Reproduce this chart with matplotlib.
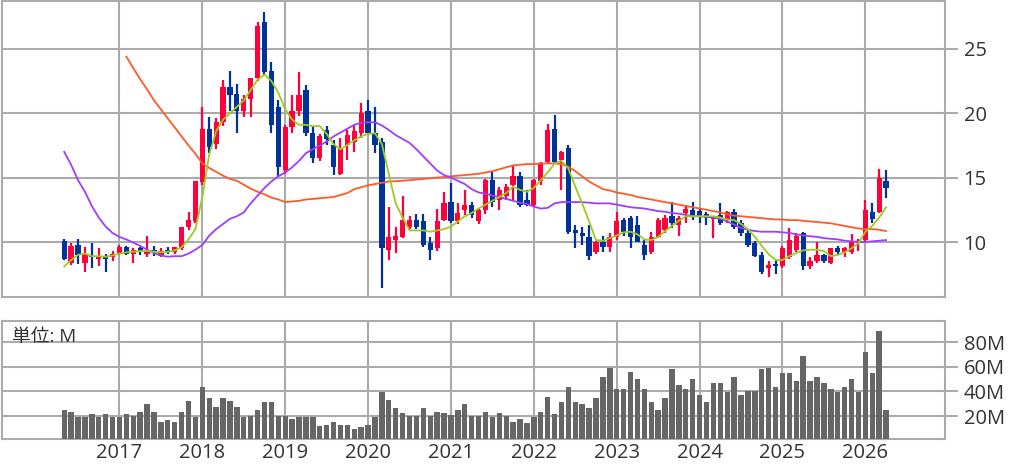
import numpy as np
import pandas as pd
import matplotlib
matplotlib.use("Agg")
import matplotlib.pyplot as plt

plt.rcParams['font.family'] = ['Open Sans', 'Noto Sans CJK JP', 'DejaVu Sans']

# ---------------- data (monthly, May 2016 .. Apr 2026) ----------------
start_month = "2016-05"

opens = [10.1, 8.4, 9.8, 8.4, 8.9, 8.7, 8.8, 8.8, 9.15, 9.6,
         9.1, 9.5, 9.1, 9.4, 8.9, 9.4, 9.2, 9.5, 11.2, 11.6,
         14.65, 18.8, 17.6, 19.3, 22.0, 21.5, 20.2, 21.1, 22.7, 27.1,
         23.3, 20.5, 15.6, 18.9, 20.2, 21.8, 18.45, 16.5, 18.7, 17.5,
         15.3, 17.5, 17.8, 18.45, 20.2, 18.45, 17.8, 9.4, 10.15, 10.4,
         11.2, 11.7, 11.6, 9.9, 9.5, 11.7, 13.1, 11.6, 12.5, 12.9,
         11.6, 12.5, 14.8, 13.25, 13.6, 14.4, 15.1, 13.25, 12.9, 14.7,
         16.2, 18.8, 16.35, 17.3, 10.9, 10.7, 10.4, 9.25, 10.0, 9.6,
         10.4, 11.7, 11.9, 11.3, 9.77, 9.25, 10.4, 10.9, 12.0, 11.3,
         12.25, 12.5, 12.4, 12.2, 11.8, 12.1, 11.7, 12.35, 11.45, 10.7,
         9.9, 9.0, 8.0, 8.3, 8.1, 8.86, 9.4, 10.7, 8.1, 8.5,
         9.0, 8.4, 9.5, 9.2, 9.25, 9.9, 10.15, 12.35, 12.35, 14.7]
highs = [10.2, 9.9, 10.2, 9.6, 9.9, 9.5, 9.1, 9.3, 9.8, 9.7,
         9.5, 9.6, 10.5, 9.7, 9.5, 9.6, 9.6, 11.2, 12.35, 14.7,
         20.5, 19.7, 19.6, 22.6, 23.3, 22.3, 21.4, 22.7, 27.1, 27.9,
         24.0, 21.0, 19.1, 21.4, 23.2, 22.2, 18.9, 18.4, 19.0, 17.9,
         18.1, 18.7, 19.1, 20.8, 21.0, 20.5, 18.1, 12.7, 11.2, 13.6,
         12.0, 12.2, 12.2, 10.4, 12.6, 13.9, 14.6, 13.0, 14.0, 13.1,
         12.6, 14.9, 15.45, 14.3, 14.5, 16.0, 15.4, 14.0, 14.9, 16.2,
         19.2, 19.85, 17.1, 17.5, 11.3, 11.2, 11.3, 10.1, 10.5, 10.7,
         12.35, 11.9, 12.0, 12.0, 10.15, 10.8, 11.9, 12.1, 13.1, 12.0,
         12.9, 13.1, 12.6, 12.3, 12.0, 13.0, 12.4, 12.6, 11.7, 11.0,
         10.1, 9.2, 8.5, 8.6, 9.7, 11.1, 10.7, 10.8, 8.8, 10.0,
         9.1, 9.5, 9.7, 9.6, 10.6, 10.2, 13.25, 13.0, 15.7, 15.6]
lows = [8.6, 8.2, 8.3, 7.7, 8.0, 8.1, 7.7, 8.5, 9.0, 9.0,
        8.4, 9.0, 8.8, 8.9, 8.8, 9.1, 9.1, 9.4, 10.9, 11.5,
        14.4, 16.9, 17.2, 19.0, 20.2, 18.5, 19.7, 19.7, 22.5, 23.0,
        18.5, 15.06, 15.3, 18.45, 19.8, 18.2, 16.1, 16.3, 17.5, 15.2,
        15.2, 16.4, 17.0, 18.1, 18.3, 16.9, 6.4, 8.6, 9.15, 10.3,
        11.0, 11.0, 9.6, 8.6, 9.3, 11.6, 11.5, 11.4, 12.1, 11.9,
        11.4, 12.2, 12.7, 12.5, 13.3, 13.25, 12.7, 12.8, 12.7, 14.4,
        16.1, 16.1, 14.0, 10.6, 9.5, 9.8, 8.6, 9.1, 9.2, 9.2,
        10.15, 10.5, 9.5, 10.0, 8.6, 9.1, 10.3, 10.7, 11.1, 10.5,
        11.5, 11.7, 11.5, 11.3, 10.3, 11.3, 11.5, 11.0, 10.5, 9.6,
        8.8, 7.5, 7.3, 7.5, 8.0, 8.7, 9.2, 7.8, 7.9, 8.4,
        8.4, 8.3, 9.0, 8.8, 9.1, 9.3, 10.0, 11.45, 12.25, 13.4]
closes = [8.7, 9.7, 9.0, 9.1, 8.8, 8.9, 8.7, 9.1, 9.6, 9.1,
          9.4, 9.3, 9.3, 9.2, 9.3, 9.2, 9.6, 11.2, 11.7, 14.7,
          18.8, 17.4, 19.3, 22.0, 21.4, 20.2, 21.1, 22.7, 26.8, 23.2,
          19.1, 15.8, 18.9, 20.2, 21.4, 18.45, 16.5, 18.2, 18.0, 15.8,
          17.3, 18.3, 18.6, 20.0, 18.45, 17.5, 9.5, 10.4, 10.5, 11.7,
          11.7, 11.2, 9.8, 9.4, 11.6, 13.0, 11.6, 12.25, 12.9, 12.1,
          12.5, 14.8, 13.1, 14.0, 14.3, 15.1, 12.9, 12.9, 14.8, 16.1,
          18.7, 16.2, 17.0, 10.8, 10.7, 10.5, 8.9, 10.0, 9.6, 10.4,
          11.6, 10.8, 10.4, 10.0, 9.0, 10.4, 11.7, 11.9, 11.5, 11.9,
          12.6, 12.1, 12.0, 11.9, 12.0, 11.45, 12.3, 11.2, 10.7, 9.77,
          8.9, 7.7, 8.2, 8.1, 9.5, 10.15, 10.5, 8.1, 8.5, 9.0,
          8.5, 9.5, 9.2, 9.5, 10.0, 10.1, 12.5, 11.8, 15.0, 14.2]

ma_short = [8.1, 8.6, 9.0, 9.1, 8.9, 8.9, 8.85, 8.95, 9.1, 9.2,
            9.25, 9.3, 9.3, 9.25, 9.2, 9.25, 9.35, 9.6, 10.2, 11.0,
            13.5, 16.8, 18.6, 19.5, 20.0, 20.5, 21.0, 21.8, 22.6, 23.0,
            22.5, 21.6, 20.3, 19.5, 19.1, 19.1, 19.0, 19.0, 18.4, 17.6,
            17.2, 17.55, 17.9, 18.2, 18.4, 18.45, 17.6, 15.3, 13.0, 11.9,
            10.9, 10.9, 10.9, 10.8, 10.9, 11.0, 11.2, 11.6, 12.0, 12.25,
            12.6, 12.9, 13.2, 13.5, 13.8, 14.3, 14.05, 13.9, 14.2, 14.8,
            15.4, 16.1, 16.3, 15.7, 14.3, 13.0, 11.6, 10.15, 10.1, 10.3,
            10.5, 10.75, 10.8, 10.6, 10.2, 10.15, 10.4, 10.85, 11.25, 11.65,
            12.0, 12.0, 12.0, 12.0, 12.0, 11.9, 11.75, 11.7, 11.4, 11.0,
            10.4, 9.7, 9.05, 8.6, 8.6, 8.9, 9.15, 9.35, 9.4, 9.4,
            9.3, 8.9, 9.0, 9.2, 9.5, 9.9, 10.8, 11.25, 11.9, 12.7]
ma_mid = [17.0, 16.0, 14.8, 13.9, 12.8, 11.9, 11.2, 10.7, 10.4, 10.2,
          9.95, 9.7, 9.4, 9.15, 8.95, 8.86, 8.9, 8.9, 9.1, 9.4,
          9.77, 10.5, 11.0, 11.4, 11.8, 12.0, 12.3, 13.0, 13.6, 14.2,
          14.7, 15.1, 15.4, 15.8, 16.3, 16.9, 17.2, 17.5, 17.8, 18.2,
          18.5, 18.8, 19.1, 19.25, 19.3, 19.3, 19.05, 18.7, 18.3, 18.0,
          17.7, 17.2, 16.65, 16.1, 15.55, 15.2, 15.0, 14.75, 14.5, 14.1,
          13.85, 13.75, 13.6, 13.5, 13.35, 13.2, 13.05, 12.95, 12.75, 12.6,
          12.65, 13.0, 13.1, 13.1, 13.1, 13.1, 13.05, 13.0, 13.0, 13.0,
          12.9, 12.8, 12.7, 12.65, 12.6, 12.5, 12.4, 12.35, 12.25, 12.2,
          12.1, 12.0, 12.0, 11.95, 11.9, 11.8, 11.6, 11.35, 11.1, 10.95,
          10.85, 10.8, 10.8, 10.8, 10.75, 10.7, 10.6, 10.5, 10.45, 10.4,
          10.3, 10.25, 10.2, 10.1, 10.05, 10.0, 10.0, 10.05, 10.1, 10.15]
ma_long = [None] * 9 + [
           24.4, 23.5, 22.65, 21.85, 21.0, 20.3, 19.6, 18.9, 18.2, 17.5,
           16.85, 16.1, 15.75, 15.45, 15.15, 14.9, 14.75, 14.45, 14.15, 13.9,
           13.7, 13.45, 13.3, 13.1, 13.15, 13.2, 13.3, 13.35, 13.4, 13.45,
           13.5, 13.65, 13.8, 14.1, 14.25, 14.4, 14.5, 14.6, 14.7, 14.72,
           14.76, 14.8, 14.85, 14.9, 14.95, 15.0, 15.05, 15.1, 15.15, 15.2,
           15.25, 15.3, 15.4, 15.5, 15.65, 15.8, 15.95, 16.0, 16.05, 16.05,
           16.1, 16.1, 16.1, 16.05, 15.85, 15.5, 15.1, 14.7, 14.4, 14.1,
           14.0, 13.85, 13.75, 13.65, 13.5, 13.4, 13.3, 13.2, 13.1, 13.0,
           12.9, 12.8, 12.7, 12.6, 12.5, 12.4, 12.3, 12.15, 12.05, 12.0,
           11.95, 11.9, 11.85, 11.8, 11.75, 11.75, 11.7, 11.7, 11.65, 11.6,
           11.55, 11.5, 11.45, 11.35, 11.25, 11.15, 11.05, 11.0, 11.0, 10.95,
           10.85]

volumes = [24.9, 23.5, 19.4, 19.4, 21.4, 19.4, 21.4, 19.4, 19.4, 21.4,
           20.0, 23.0, 29.5, 23.0, 15.4, 16.7, 15.4, 23.0, 32.4, 19.4,
           43.3, 34.4, 27.6, 34.4, 32.4, 27.6, 19.4, 20.0, 24.9, 31.1,
           31.1, 20.0, 20.0, 17.3, 19.4, 19.4, 19.0, 12.1, 12.6, 15.4,
           12.7, 12.7, 9.2, 11.3, 12.7, 19.4, 39.3, 33.0, 26.2, 22.2,
           20.0, 20.0, 26.2, 20.0, 23.5, 22.2, 20.8, 24.9, 29.8, 20.0,
           20.0, 23.5, 19.4, 22.2, 20.0, 15.4, 17.3, 14.6, 18.9, 23.5,
           35.7, 21.6, 31.1, 43.3, 31.1, 29.5, 26.2, 34.4, 51.5, 58.8,
           42.0, 42.0, 56.0, 50.0, 42.0, 31.1, 24.9, 34.4, 58.2, 45.2,
           42.0, 50.0, 37.0, 31.1, 47.0, 47.0, 39.8, 51.5, 37.0, 40.6,
           40.6, 58.0, 58.8, 43.3, 54.7, 54.7, 48.5, 68.8, 48.5, 51.5,
           47.0, 42.0, 39.8, 43.8, 49.8, 39.8, 72.3, 54.7, 89.4, 24.9]

price_ticks = [10, 15, 20, 25]
volume_ticks = [20, 40, 60, 80]
volume_tick_labels = ["20M", "40M", "60M", "80M"]
unit_label = "単位: M"

# ---------------- styling ----------------
UP = "#ff003c"
DOWN = "#003399"
GRID = "#ababab"
TXT = "#333333"

months = pd.date_range(start_month, periods=len(opens), freq="MS")
x = np.arange(len(months))
o = np.array(opens); h = np.array(highs); l = np.array(lows); c = np.array(closes)
up = c >= o
cols = np.where(up, UP, DOWN)

fig = plt.figure(figsize=(10.24, 4.66), dpi=100)
ax = fig.add_axes([0.002, 0.3627, 0.9213, 0.6355])
axv = fig.add_axes([0.002, 0.058, 0.9213, 0.2532])

year_pos = x[months.month == 1]
year_lbl = [str(d.year) for d in months[months.month == 1]]

for a in (ax, axv):
    a.set_xlim(-9.0, 127.6)
    for s in a.spines.values():
        s.set_color(GRID)
        s.set_linewidth(1.5)
    a.set_xticks(year_pos)
    a.grid(True, color=GRID, linewidth=1.5)
    a.set_axisbelow(True)
    a.yaxis.tick_right()
    a.tick_params(axis="y", which="both", length=9, width=1.5, color=GRID,
                  labelcolor=TXT, labelsize=14.5, pad=4, left=False)
    a.tick_params(axis="x", length=0)

# candles
ax.vlines(x, l, h, colors=cols, linewidth=1.6, zorder=3)
body_bottom = np.minimum(o, c)
body_h = np.maximum(np.abs(c - o), 0.08)
ax.bar(x, body_h, bottom=body_bottom, width=0.76, color=cols, edgecolor="none", zorder=4)

ml = np.array([np.nan if v is None else v for v in ma_long], dtype=float)
ax.plot(x, ml, color="#ff5a28", linewidth=1.3, zorder=5)
ax.plot(x, ma_mid, color="#a03cff", linewidth=1.3, zorder=5)
ax.plot(x, ma_short, color="#9acd1e", linewidth=1.3, zorder=5)

ax.set_ylim(5.73, 28.73)
ax.set_yticks(price_ticks)
ax.set_yticklabels([str(t) for t in price_ticks])
ax.tick_params(axis="x", labelbottom=False)

# volume
axv.bar(x, volumes, width=0.78, color="#666666", zorder=3)
axv.set_ylim(1.4, 97.2)
axv.set_yticks(volume_ticks)
axv.set_yticklabels(volume_tick_labels)
axv.set_xticklabels(year_lbl)
axv.tick_params(axis="x", labelsize=14.5, labelcolor=TXT, pad=3)
axv.text(0.011, 0.86, unit_label, transform=axv.transAxes, fontsize=13.5,
         color=TXT, va="center", ha="left", zorder=6)

fig.savefig("out.png", dpi=100)
